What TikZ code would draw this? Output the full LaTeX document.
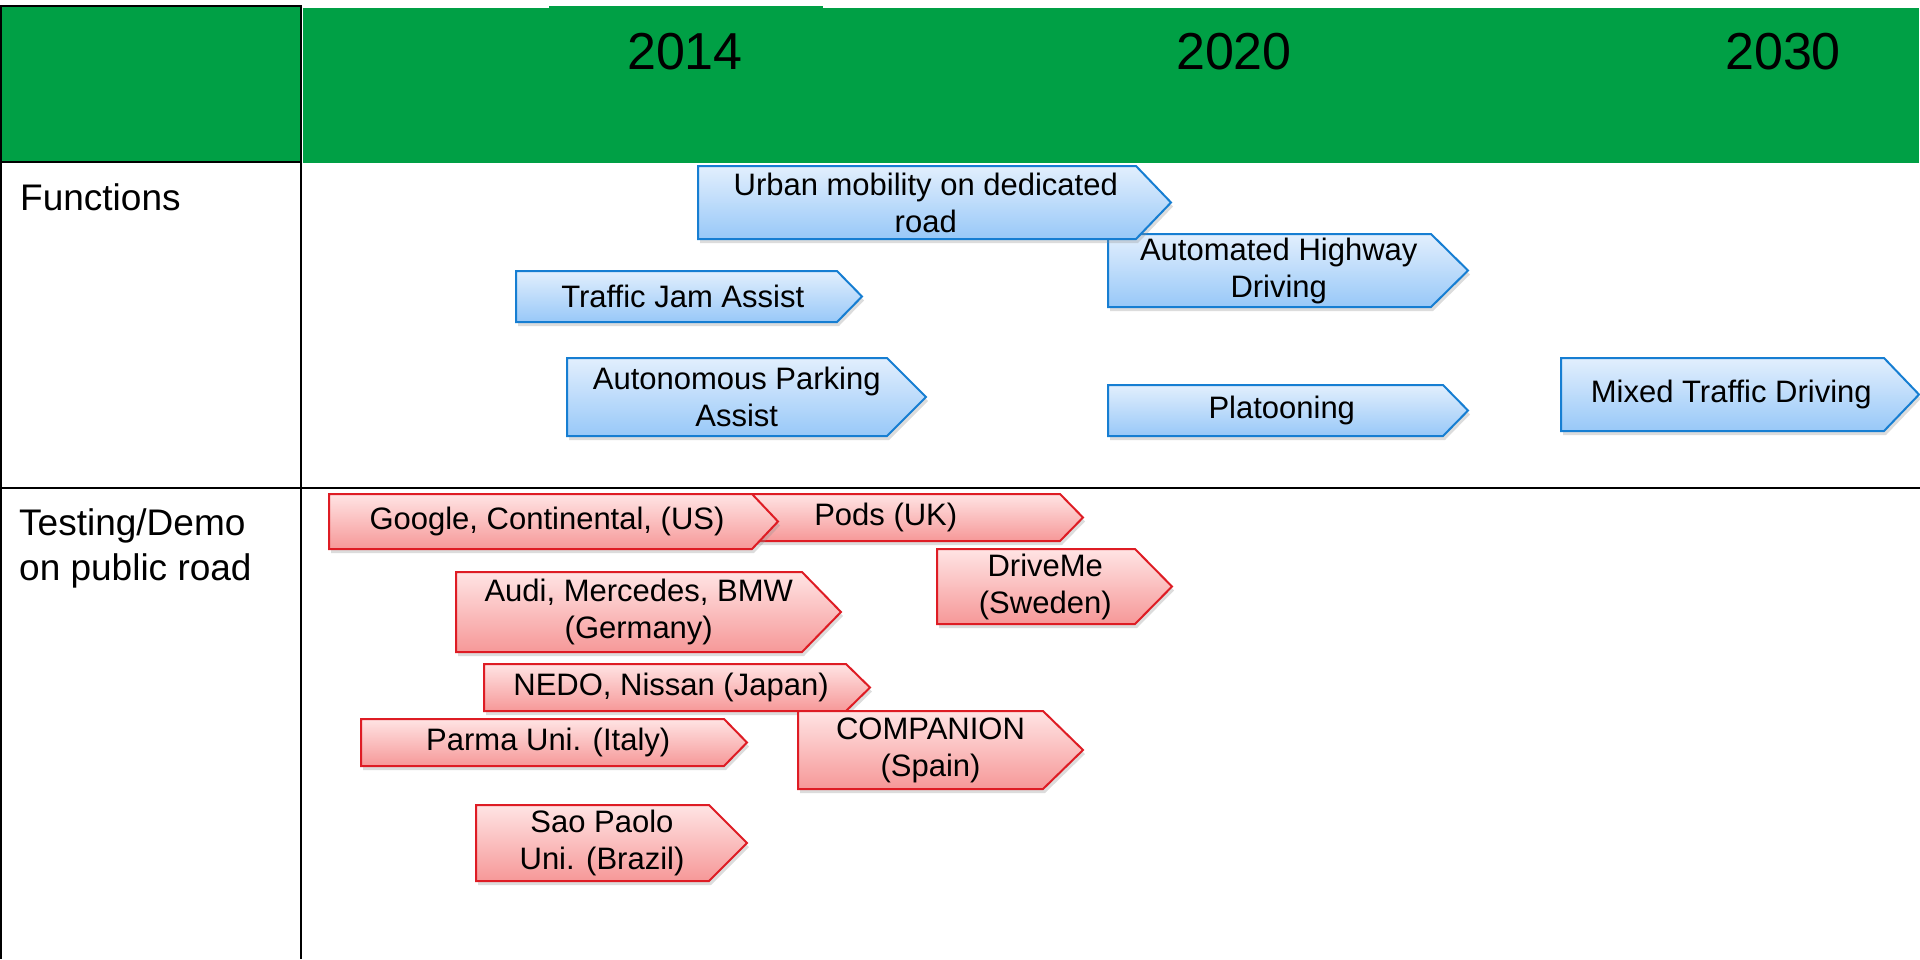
\documentclass[tikz,border=0pt]{standalone}
\usepackage{fontspec}
\setmainfont{Liberation Sans}
\usetikzlibrary{positioning}
\definecolor{hdrgreen}{RGB}{0,160,69}
\definecolor{bluetop}{RGB}{226,239,253}
\definecolor{bluebot}{RGB}{152,200,248}
\definecolor{blueline}{RGB}{22,126,210}
\definecolor{redtop}{RGB}{255,228,228}
\definecolor{redbot}{RGB}{246,152,152}
\definecolor{redline}{RGB}{222,28,36}

\begin{document}
\begin{tikzpicture}[x=1pt,y=-1pt]
  \tikzstyle{tableline}=[line width=2.6pt]
  \tikzstyle{boxshadow}=[fill=black!45, opacity=.3]
  \tikzstyle{funcbox}=[top color=bluetop, bottom color=bluebot, draw=blueline, line width=2pt]
  \tikzstyle{testbox}=[top color=redtop, bottom color=redbot, draw=redline, line width=2pt]
  \tikzstyle{boxtext}=[inner sep=0pt, align=center, font=\fontsize{31}{37}\selectfont]
  \tikzstyle{rowlabel}=[inner sep=0pt, align=left, font=\fontsize{37}{45}\selectfont]
  \tikzstyle{year}=[inner sep=0pt, font=\fontsize{52}{62}\selectfont]
  \useasboundingbox (0,0) rectangle (1920,959);

  % header
  \fill[hdrgreen] (303,8) rectangle (1919,163);
  \fill[hdrgreen] (549,6) rectangle (823,8);
  \filldraw[fill=hdrgreen, tableline] (1,6) rectangle (301,162);
  \foreach \x/\yr in {685/2014, 1234/2020, 1783/2030}
    \node[year, anchor=base] (y\yr) at (\x,69) {\yr};

  % rows
  \draw[tableline] (1,162) -- (1,959);
  \draw[tableline] (301,162) -- (301,959);
  \draw[tableline] (0,488) -- (1920,488);
  \node[rowlabel, anchor=base west] (functions) at (20,210) {Functions};
  \node[rowlabel, anchor=north west] (testing) at (19,508) {Testing/Demo\\on public road};

  % functions
  \foreach \xl/\yt/\xr/\xt/\yb/\txt/\bname in {516/271/837/862/322/{Traffic Jam Assist}/jam,
      567/358/887/926/436/{Autonomous Parking\\Assist}/parking,
      1108/234/1431/1468/307/{Automated Highway\\Driving}/highway,
      698/166/1136/1171/239/{Urban mobility on dedicated\\road}/urban,
      1108/385/1443/1468/436/{Platooning}/platoon,
      1561/358/1884/1919/431/{Mixed Traffic Driving}/mixed}
  {
    \pgfmathsetmacro\ym{(\yt+\yb)/2}
    \pgfmathsetmacro\xc{(\xl+\xr)/2+(\xt-\xr)/4}
    \fill[boxshadow, shift={(2,4)}] (\xl,\yt) -- (\xr,\yt) -- (\xt,\ym) -- (\xr,\yb) -- (\xl,\yb) -- cycle;
    \shadedraw[funcbox] (\xl,\yt) -- (\xr,\yt) -- (\xt,\ym) -- (\xr,\yb) -- (\xl,\yb) -- cycle;
    \node[boxtext] (\bname) at (\xc,\ym) {\txt};
  }

  % testing / demo
  \foreach \xl/\yt/\xr/\xt/\yb/\txt/\bname in {700/494/1060/1083/541/{Pods (UK)}/pods,
      329/494/752/778/549/{Google, Continental, (US)}/google,
      456/572/802/841/652/{Audi, Mercedes, BMW\\(Germany)}/audi,
      937/549/1135/1172/624/{DriveMe\\(Sweden)}/driveme,
      484/664/846/870/711/{NEDO, Nissan (Japan)}/nedo,
      798/711/1043/1083/789/{COMPANION\\(Spain)}/companion,
      361/719/724/747/766/{Parma Uni. (Italy)}/parma,
      476/805/709/747/881/{Sao Paolo\\Uni. (Brazil)}/saopaolo}
  {
    \pgfmathsetmacro\ym{(\yt+\yb)/2}
    \pgfmathsetmacro\xc{(\xl+\xr)/2+(\xt-\xr)/4}
    \fill[boxshadow, shift={(2,4)}] (\xl,\yt) -- (\xr,\yt) -- (\xt,\ym) -- (\xr,\yb) -- (\xl,\yb) -- cycle;
    \shadedraw[testbox] (\xl,\yt) -- (\xr,\yt) -- (\xt,\ym) -- (\xr,\yb) -- (\xl,\yb) -- cycle;
    \node[boxtext] (\bname) at (\xc,\ym) {\txt};
  }
\end{tikzpicture}
\end{document}
